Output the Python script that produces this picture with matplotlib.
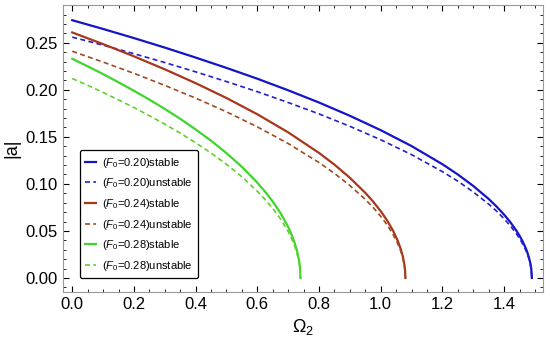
import matplotlib
matplotlib.use("Agg")
import matplotlib.pyplot as plt
from matplotlib.ticker import MultipleLocator, FormatStrFormatter

plt.rcParams['font.family'] = ['Liberation Sans', 'DejaVu Sans']
plt.rcParams['mathtext.fontset'] = 'custom'
plt.rcParams['mathtext.rm'] = 'Liberation Sans'
plt.rcParams['mathtext.it'] = 'Liberation Sans:italic'

# Data
x_b = [0, 0.1, 0.2, 0.3, 0.4, 0.5, 0.6, 0.7, 0.8, 0.9, 1.0, 1.1, 1.2, 1.25, 1.3, 1.35, 1.375, 1.4,
       1.42, 1.44, 1.45, 1.46, 1.47, 1.475, 1.48, 1.485, 1.488, 1.49]
b_stable = [0.274, 0.2647, 0.2550, 0.2449, 0.2343, 0.2233, 0.2118, 0.1995, 0.1865, 0.1724, 0.1571,
            0.1402, 0.1209, 0.1100, 0.0978, 0.0840, 0.0761, 0.0673, 0.0594, 0.0502, 0.0449, 0.0389,
            0.0318, 0.0275, 0.0224, 0.0159, 0.0100, 0.0]
b_unstable = [0.256, 0.2475, 0.2384, 0.2290, 0.2191, 0.2088, 0.1980, 0.1865, 0.1744, 0.1612, 0.1469,
              0.1311, 0.1130, 0.1029, 0.0914, 0.0785, 0.0712, 0.0629, 0.0555, 0.0469, 0.0420, 0.0364,
              0.0297, 0.0257, 0.0209, 0.0149, 0.0094, 0.0]

x_r = [0, 0.1, 0.2, 0.3, 0.4, 0.5, 0.6, 0.7, 0.8, 0.85, 0.9, 0.95, 0.975, 1.0, 1.02, 1.04, 1.055,
       1.065, 1.072, 1.077, 1.079, 1.08]
r_stable = [0.261, 0.2486, 0.2356, 0.2218, 0.2071, 0.1913, 0.1740, 0.1548, 0.1329, 0.1205, 0.1065,
            0.0905, 0.0814, 0.0710, 0.0615, 0.0502, 0.0397, 0.0308, 0.0225, 0.0138, 0.0079, 0.0]
r_unstable = [0.241, 0.2295, 0.2175, 0.2047, 0.1912, 0.1766, 0.1606, 0.1429, 0.1227, 0.1112, 0.0983,
              0.0835, 0.0751, 0.0655, 0.0568, 0.0463, 0.0366, 0.0284, 0.0208, 0.0127, 0.0073, 0.0]

x_g = [0, 0.05, 0.1, 0.15, 0.2, 0.25, 0.3, 0.35, 0.4, 0.45, 0.5, 0.55, 0.6, 0.625, 0.65, 0.675,
       0.7, 0.71, 0.72, 0.728, 0.735, 0.738, 0.74]
g_stable = [0.233, 0.2250, 0.2167, 0.2080, 0.1990, 0.1896, 0.1797, 0.1692, 0.1579, 0.1459, 0.1327,
            0.1181, 0.1013, 0.0918, 0.0813, 0.0691, 0.0542, 0.0469, 0.0383, 0.0297, 0.0192, 0.0121, 0.0]
g_unstable = [0.212, 0.2048, 0.1972, 0.1893, 0.1811, 0.1725, 0.1635, 0.1540, 0.1437, 0.1328, 0.1208,
              0.1075, 0.0922, 0.0835, 0.0740, 0.0629, 0.0493, 0.0427, 0.0349, 0.0270, 0.0175, 0.0110, 0.0]

labels = [r'($F_0$=0.20)stable', r'($F_0$=0.20)unstable',
          r'($F_0$=0.24)stable', r'($F_0$=0.24)unstable',
          r'($F_0$=0.28)stable', r'($F_0$=0.28)unstable']

blue = '#1414c8'
blue_d = '#2020d0'
brown = '#a8371c'
brown_d = '#a04a22'
green = '#3ed62b'
green_d = '#62d02c'

fig = plt.figure(figsize=(5.5, 3.44), dpi=100)
ax = fig.add_axes([0.1145, 0.151, 0.8727, 0.834])

ax.plot(x_b, b_stable, color=blue, lw=1.6, label=labels[0])
ax.plot(x_b, b_unstable, color=blue_d, lw=1.2, ls=(0, (3, 2)), label=labels[1])
ax.plot(x_r, r_stable, color=brown, lw=1.6, label=labels[2])
ax.plot(x_r, r_unstable, color=brown_d, lw=1.2, ls=(0, (3, 2)), label=labels[3])
ax.plot(x_g, g_stable, color=green, lw=1.6, label=labels[4])
ax.plot(x_g, g_unstable, color=green_d, lw=1.2, ls=(0, (3, 2)), label=labels[5])

ax.set_xlim(-0.03, 1.526)
ax.set_ylim(-0.015, 0.290)
ax.xaxis.set_major_locator(MultipleLocator(0.2))
ax.xaxis.set_minor_locator(MultipleLocator(0.05))
ax.yaxis.set_major_locator(MultipleLocator(0.05))
ax.yaxis.set_minor_locator(MultipleLocator(0.01))
ax.xaxis.set_major_formatter(FormatStrFormatter('%.1f'))
ax.yaxis.set_major_formatter(FormatStrFormatter('%.2f'))
ax.tick_params(which='both', direction='in', top=True, right=True, labelsize=12)
ax.tick_params(which='major', length=4, width=0.8)
ax.tick_params(which='minor', length=2, width=0.6)
for s in ax.spines.values():
    s.set_color('#999999')
    s.set_linewidth(0.8)

ax.set_xlabel(r'$\Omega_2$', fontsize=13)
ax.set_ylabel('|a|', fontsize=13, labelpad=4)

leg = ax.legend(loc='upper left', bbox_to_anchor=(0.035, 0.495), fontsize=8,
                frameon=True, fancybox=True, edgecolor='black', framealpha=1,
                handlelength=1.0, handletextpad=0.5, labelspacing=0.6,
                borderpad=0.5, borderaxespad=0)
leg.get_frame().set_linewidth(0.9)

fig.savefig('out.png', dpi=100)
